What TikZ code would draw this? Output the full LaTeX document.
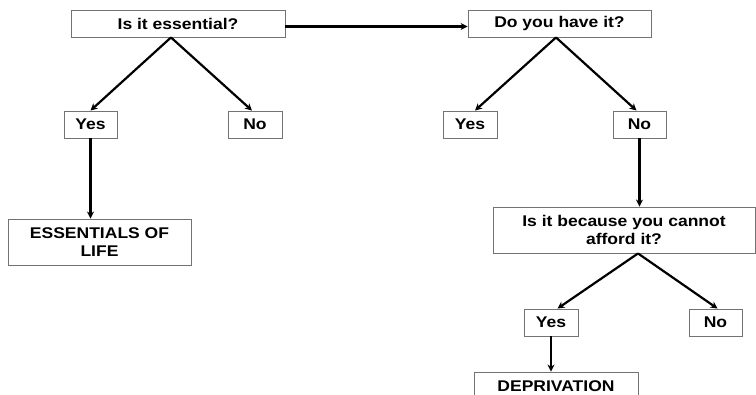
\documentclass[tikz,border=0pt]{standalone}
\usepackage{fontspec}
\setmainfont[FakeStretch=1.13]{Liberation Sans}
\usetikzlibrary{arrows.meta}
\newcommand{\BoxFont}{\fontsize{15.5}{18}\selectfont\bfseries}
\tikzset{
    box/.style={draw=black!55, line width=0.9pt, fill=white, inner sep=2pt,
        minimum height=27pt, font=\BoxFont, align=center},
    tallbox/.style={box, minimum height=46pt},
    every edge/.append style={line width=2.2pt, -{Stealth[length=7pt, width=7pt]}},
}

\begin{document}
\begin{tikzpicture}[x=1pt, y=-1pt]
    \clip (0,0) rectangle (756,395);

    % first question
    \node[box, minimum width=214pt] (ess) at (178,23.5) {Is it essential?};
    \node[box, minimum width=53pt] (yes1) at (90.5,124.5) {Yes};
    \node[box, minimum width=54pt] (no1) at (255,124.5) {No};
    \node[tallbox, minimum width=183pt] (life) at (99.5,242) {ESSENTIALS OF\\LIFE};

    % second question
    \node[box, minimum width=183pt] (have) at (559.5,23.5) {Do you have it?};
    \node[box, minimum width=54pt] (yes2) at (470,124.5) {Yes};
    \node[box, minimum width=53pt] (no2) at (639.5,124.5) {No};

    % third question
    \node[tallbox, minimum width=262pt] (afford) at (624,230) {Is it because you cannot\\afford it?};
    \node[box, minimum width=54pt] (yes3) at (551,322.5) {Yes};
    \node[box, minimum width=53pt] (no3) at (715.5,322.5) {No};
    \node[tallbox, minimum width=164pt] (depr) at (556,395) {DEPRIVATION\\\phantom{X}};

    \coordinate (essfork) at ([xshift=-7pt]ess.south);
    \coordinate (havefork) at ([xshift=-3.5pt]have.south);
    \coordinate (affordfork) at ([xshift=14pt]afford.south);

    \draw ([yshift=-3pt]ess.east) edge ([yshift=-3pt]have.west);
    \draw (essfork) edge (yes1.north);
    \draw (essfork) edge ([xshift=-3pt]no1.north);
    \draw (yes1.south) edge (yes1.south |- life.north);
    \draw (havefork) edge ([xshift=5pt]yes2.north);
    \draw (havefork) edge ([xshift=-3pt]no2.north);
    \draw (no2.south) edge (no2.south |- afford.north);
    \draw (affordfork) edge ([xshift=6.5pt]yes3.north);
    \draw (affordfork) edge ([xshift=2pt]no3.north);
    \draw (yes3.south) edge (yes3.south |- depr.north);
\end{tikzpicture}
\end{document}
